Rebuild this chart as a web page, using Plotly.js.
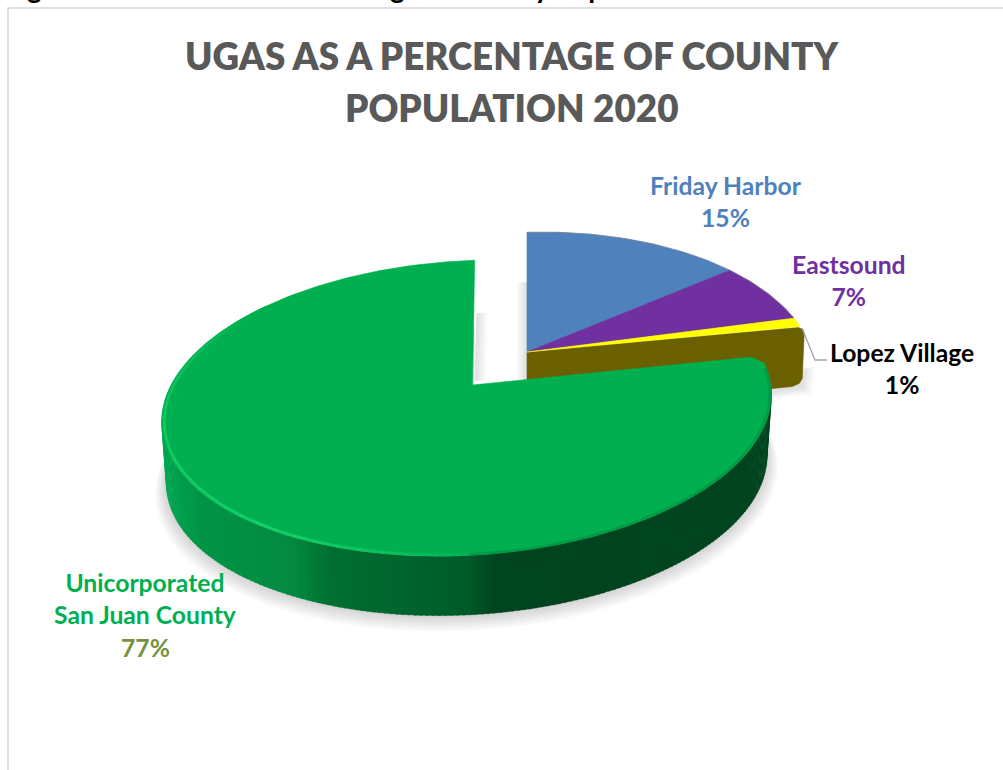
<!DOCTYPE html>
<html><head><meta charset="utf-8">
<script src="https://cdn.plot.ly/plotly-3.0.1.min.js"></script>
<style>html,body{margin:0;padding:0;background:#fff;overflow:hidden}#c{width:1003px;height:770px}</style>
</head><body><div id="c"></div>
<script>
// ---- data ----
var sliceNames  = ['Friday Harbor','Eastsound','Lopez Village','Unicorporated San Juan County'];
var sliceValues = [15,7,1,77];
var sliceColors = ['#4f81bd','#7030a0','#ffff00','#00b050'];
var sliceLabels = ['Friday Harbor<br>15%','Eastsound<br>7%','Lopez Village<br>1%','Unicorporated<br>San Juan County'];
var titleLines = ['UGAS AS A PERCENTAGE OF COUNTY','POPULATION 2020'];
var clippedCaption = 'Figure 3-1: UGAs as a Percentage of County Population';

// ---- drawing style: the tilted disc and its exploded part ----
var mainDisc = {cx:472.5, cy:385, R:301, a:144, b:12, c:2.5, k:0.155, m:0.018};
var pulledDisc = {cx:527, cy:352, R:283, a:146, b:8, c:0, k:0.22, m:0};
var depth = 62, bottomScale = 0.985;
var wallX = [165,200,290,330,400,465,495,775];
var wallRGB = [[0,165,80],[0,148,71],[3,138,64],[0,111,49],[0,101,46],[0,90,41],[0,68,31],[0,69,31]];

function proj(g, deg, s, dy){
  s = s===undefined?1:s; dy = dy||0;
  var t = deg*Math.PI/180, X = Math.sin(t), Y = Math.cos(t), D = 1+g.k*Y+g.m*X;
  return [g.cx + s*(g.R*X+g.c*Y)/D, g.cy + dy - s*(g.a*Y+g.b*X)/D];
}
function arc(g, a0, a1, s, dy){
  var p=[], n=Math.max(2,Math.ceil(Math.abs(a1-a0))), i;
  for(i=0;i<=n;i++) p.push(proj(g, a0+(a1-a0)*i/n, s, dy));
  return p;
}
function poly(pts, color, lineColor, lineW){
  var xs=pts.map(function(p){return p[0]}), ys=pts.map(function(p){return p[1]});
  xs.push(xs[0]); ys.push(ys[0]);
  return {type:'scatter', mode:'lines', x:xs, y:ys, fill:'toself', fillcolor:color,
    line:{color:lineColor||color, width:lineW===undefined?0.6:lineW}, hoverinfo:'skip', showlegend:false};
}
function path(pts, color, w){
  return {type:'scatter', mode:'lines', x:pts.map(function(p){return p[0]}), y:pts.map(function(p){return p[1]}),
    line:{color:color, width:w}, hoverinfo:'skip', showlegend:false};
}
function wallColor(x){
  var i=0; while(i<wallX.length-2 && x>wallX[i+1]) i++;
  var f=Math.min(1,Math.max(0,(x-wallX[i])/(wallX[i+1]-wallX[i])));
  var c=[0,1,2].map(function(j){return Math.round(wallRGB[i][j]+(wallRGB[i+1][j]-wallRGB[i][j])*f)});
  return 'rgb('+c.join(',')+')';
}
// angles come from the values
var total = sliceValues.reduce(function(a,b){return a+b},0), edges=[0];
sliceValues.forEach(function(v){edges.push(edges[edges.length-1]+v/total*360)});
var pulledEnd = edges[3], greenStart = edges[3];

var traces=[];
var i;
// soft shadow below main disc (wedge, so the gap between the slices stays clear)
for(i=6;i>=1;i--){
  var shS=bottomScale*(1+0.006*i), shD=depth+1.6*i;
  var sh = arc(mainDisc, greenStart, 360, shS, shD);
  sh.push([mainDisc.cx, mainDisc.cy+shD]);
  traces.push(poly(sh, 'rgba(90,90,90,0.045)', 'rgba(0,0,0,0)', 0));
}
// shadows beside the pulled part and in the gap
var E=[pulledDisc.cx,pulledDisc.cy], L=proj(pulledDisc,pulledEnd);
for(i=5;i>=1;i--){
  traces.push(poly([[E[0]-2*i,E[1]-70],[E[0],E[1]-70],[E[0],E[1]+30],[E[0]-2*i,E[1]+30]], 'rgba(100,100,100,0.04)','rgba(0,0,0,0)',0));
  traces.push(poly([[mainDisc.cx+4,mainDisc.cy-72],[mainDisc.cx+4+2.2*i,mainDisc.cy-72],[mainDisc.cx+2.2*i+2,mainDisc.cy-4],[mainDisc.cx+2,mainDisc.cy-4]], 'rgba(100,100,100,0.04)','rgba(0,0,0,0)',0));
  traces.push(poly([[L[0]-40,L[1]+depth-5],[L[0]+3+2.5*i,L[1]+40],[L[0]+2*i+1,L[1]+depth-2+1.5*i],[L[0]-30,L[1]+depth+1.5*i+3]], 'rgba(100,100,100,0.04)','rgba(0,0,0,0)',0));
}
// wall of the pulled part
traces.push(poly([E,[L[0]-2,L[1]+1],[L[0]+3,L[1]+3],[L[0]+4,L[1]+7],[L[0]+2,L[1]+52],[L[0]-1,L[1]+57],[L[0]-8,L[1]+60],[E[0],E[1]+depth]], '#6b6000'));
// top of the pulled slices
for(i=0;i<3;i++){
  traces.push(poly([E].concat(arc(pulledDisc,edges[i],edges[i+1])), sliceColors[i]));
}
traces.push(path(arc(pulledDisc,edges[0],edges[2]),'rgba(130,130,130,0.7)',0.8));
// leader line
var lead = proj(pulledDisc,pulledEnd);
traces.push(path([[lead[0]+2,lead[1]+2],[815,360],[827,360]],'#a6a6a6',1.3));
// wall of main disc
for(var th=greenStart+12;th<310;th+=1){
  var a=proj(mainDisc,th),b=proj(mainDisc,th+1.3),c=proj(mainDisc,th+1.3,bottomScale,depth),d=proj(mainDisc,th,bottomScale,depth);
  traces.push(poly([a,b,c,d],wallColor((a[0]+b[0])/2),undefined,0.3));
}
// top of main disc (slice corner slightly rounded as in the picture)
var apex=[mainDisc.cx,mainDisc.cy];
var g0=proj(mainDisc,greenStart,0.965);
traces.push(poly([apex,g0].concat(arc(mainDisc,greenStart+3,edges[4])),sliceColors[3]));
// rim shading
var rimStops=[[178,0],[196,0.5],[215,0.85],[260,0.6],[295,0.25],[310,0]];
function rimAlpha(t){for(var j=0;j<rimStops.length-1;j++){if(t<=rimStops[j+1][0]){var f=(t-rimStops[j][0])/(rimStops[j+1][0]-rimStops[j][0]);return rimStops[j][1]+(rimStops[j+1][1]-rimStops[j][1])*f}}return 0}
for(th=178;th<310;th+=4){
  traces.push(path(arc(mainDisc,th,th+4.3,0.992),'rgba(24,214,108,'+rimAlpha(th+2).toFixed(2)+')',2.8));
}
traces.push(path(arc(mainDisc,greenStart+5,180,0.995),'rgba(0,90,40,0.25)',3));

var lbl = function(x,y,t,col){return {xref:'x',yref:'y',x:x,y:y,text:t,showarrow:false,xanchor:'center',yanchor:'middle',align:'center',
  font:{family:'Lato, "Open Sans", sans-serif',size:24.7,color:col,weight:700}}};
var ann=[
  {xref:'x',yref:'y',x:512,y:56,text:titleLines[0],showarrow:false,xanchor:'center',yanchor:'middle',
   font:{family:'Lato, sans-serif',size:36.8,color:'#595959',weight:800}},
  {xref:'x',yref:'y',x:512,y:108,text:titleLines[1],showarrow:false,xanchor:'center',yanchor:'middle',
   font:{family:'Lato, sans-serif',size:36.8,color:'#595959',weight:800}},
  lbl(726,201,sliceLabels[0],'#4f81bd'),
  lbl(849,280,sliceLabels[1],'#7030a0'),
  lbl(902,368,sliceLabels[2],'#000000'),
  lbl(145,598,sliceLabels[3],'#00b050'),
  lbl(145,647,sliceValues[3]+'%','#76923c'),
  {xref:'paper',yref:'paper',x:0,y:1,yshift:-6,xshift:2,text:clippedCaption,showarrow:false,xanchor:'left',yanchor:'bottom',
   font:{family:'Lato, sans-serif',size:28,color:'#000',weight:700}}
];
Plotly.newPlot('c',traces,{
  width:1003,height:770,autosize:false,
  margin:{l:0,r:0,t:0,b:0},
  paper_bgcolor:'#fff',plot_bgcolor:'rgba(0,0,0,0)',showlegend:false,
  xaxis:{range:[0,1003],visible:false,fixedrange:true},
  yaxis:{range:[770,0],visible:false,fixedrange:true},
  shapes:[{type:'rect',xref:'x',yref:'y',x0:8,y0:8,x1:1012,y1:785,line:{color:'#d6d6d6',width:1.6},layer:'below'}],
  annotations:ann
},{displayModeBar:false,staticPlot:true});
</script></body></html>
